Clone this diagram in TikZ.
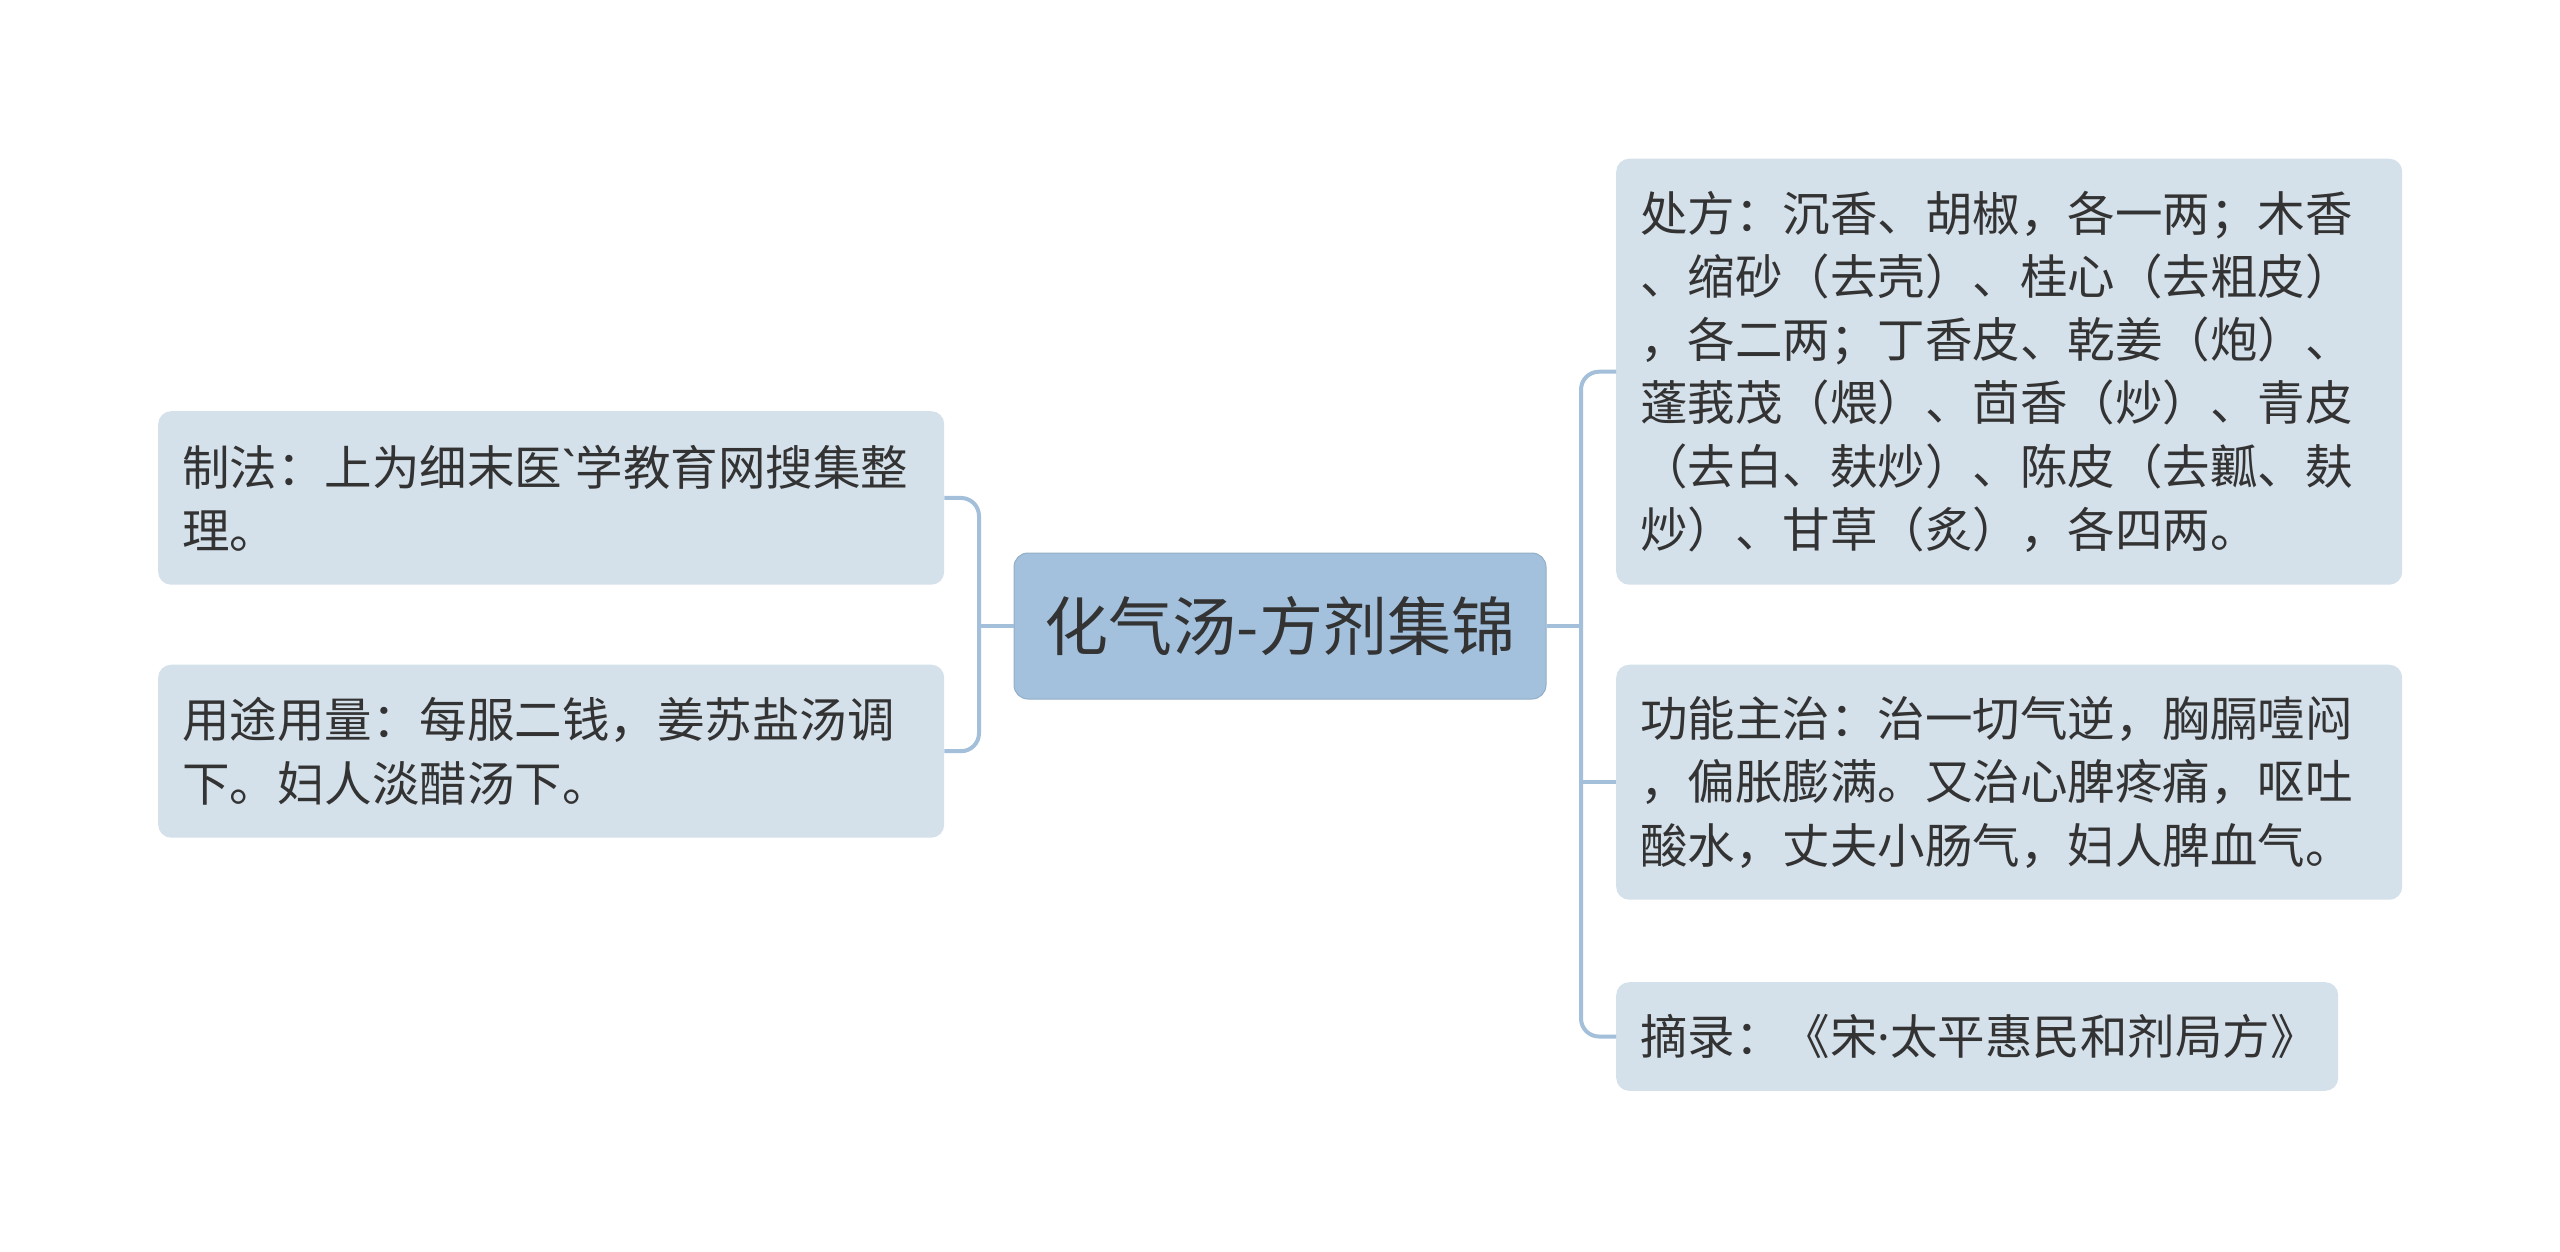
\documentclass[tikz,border=0pt]{standalone}
\usepackage{fontspec}
\setmainfont{Noto Sans CJK SC}
\newfontfamily\cjkf{Noto Sans CJK SC}
\newfontfamily\latf{Noto Sans}
\definecolor{leaffill}{HTML}{D4E0EA}
\definecolor{rootfill}{HTML}{A3C1DD}
\definecolor{linec}{HTML}{A3BFDA}
\definecolor{textc}{HTML}{333333}
\newcommand{\leaffont}{\cjkf\fontsize{47.5pt}{63.3pt}\selectfont}
\newcommand{\rootfont}{\cjkf\fontsize{64pt}{76pt}\selectfont}
\tikzset{
  leaf/.style={fill=leaffill, rounded corners=13pt, anchor=north west, align=left,
    inner xsep=24pt, inner ysep=0pt, font=\leaffont, text=textc},
  rootbox/.style={fill=rootfill, draw=rootfill!90!black, line width=1pt, rounded corners=14pt, align=center,
    minimum width=532pt, minimum height=146pt, inner sep=0pt, font=\rootfont, text=textc},
  conn/.style={draw=linec, line width=4pt}
}
\begin{document}
\begin{tikzpicture}[x=1pt,y=-1pt]
\fill[white] (0,0) rectangle (2560,1251);
\useasboundingbox (0,0) rectangle (2560,1251);

\node[rootbox] (c) at (1280,626) {化气汤-方剂集锦};

\node[leaf, text width=738pt, minimum height=173.5pt] (L1) at (158,411)
  {制法：上为细末医{\latf\textasciigrave}学教育网搜集整\\理。};
\node[leaf, text width=738pt, minimum height=173pt] (L2) at (158,664.5)
  {用途用量：每服二钱，姜苏盐汤调\\下。妇人淡醋汤下。};

\node[leaf, text width=738pt, minimum height=426pt] (R1) at (1616,158.5)
  {处方：沉香、胡椒，各一两；木香\\、缩砂（去壳）、桂心（去粗皮）\\，各二两；丁香皮、乾姜（炮）、\\蓬莪茂（煨）、茴香（炒）、青皮\\（去白、麸炒）、陈皮（去瓤、麸\\炒）、甘草（炙），各四两。};
\node[leaf, text width=738pt, minimum height=235pt] (R2) at (1616,664.5)
  {功能主治：治一切气逆，胸膈噎闷\\，偏胀膨满。又治心脾疼痛，呕吐\\酸水，丈夫小肠气，妇人脾血气。};
\node[leaf, text width=674pt, minimum height=108.6pt] (R3) at (1616,982)
  {摘录：《宋{\latf ·}太平惠民和剂局方》};

\coordinate (bl) at (979,626);
\coordinate (br) at (1581,626);

\draw[conn] (c.west) -- (bl);
\draw[conn, rounded corners=18pt] (L1.east) -- (L1.east -| bl) -- (L2.east -| bl) -- (L2.east);

\draw[conn] (c.east) -- (br);
\draw[conn, rounded corners=18pt] (R1.west) -- (R1.west -| br) -- (R3.west -| br) -- (R3.west);
\draw[conn] (R2.west -| br) -- (R2.west);
\end{tikzpicture}
\end{document}
